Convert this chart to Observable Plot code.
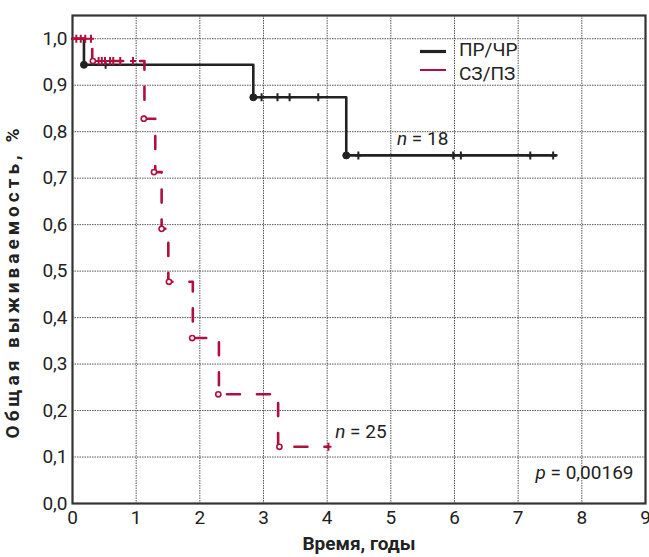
<!DOCTYPE html>
<html>
<head>
<meta charset="utf-8">
<script src="https://cdn.jsdelivr.net/npm/d3@7"></script>
<script src="https://cdn.jsdelivr.net/npm/@observablehq/plot@0.6"></script>
<style>
  html, body { margin: 0; padding: 0; background: #fff; }
  #chart { position: relative; width: 649px; height: 557px; }
</style>
</head>
<body>
<div id="chart"></div>
<script>
// ---- Data ----
const seriesNames = ["ПР/ЧР", "СЗ/ПЗ"];
const seriesColors = ["#222222", "#b0103f"];

// ПР/ЧР (n = 18): step drop times and survival after each drop
const prTime = [0, 0.18, 2.84, 4.30, 7.60];
const prSurv = [1.0, 0.944, 0.874, 0.749, 0.749];
const prEventTime = [0.18, 2.84, 4.30];
const prCensorTime = [0.52, 2.97, 3.22, 3.41, 3.86, 4.49, 5.98, 6.10, 7.19, 7.55];

// СЗ/ПЗ (n = 25)
const szTime = [0, 0.31, 1.13, 1.30, 1.40, 1.505, 1.89, 2.30, 3.23, 4.02];
const szSurv = [1.0, 0.952, 0.828, 0.713, 0.591, 0.477, 0.356, 0.235, 0.122, 0.122];
const szEventTime = [0.32, 1.12, 1.28, 1.40, 1.515, 1.88, 2.29, 3.25];
const szCensorTime = [0.06, 0.13, 0.20, 0.29, 0.41, 0.46, 0.51, 0.59, 0.64, 0.75, 0.95, 4.02];

const xTicks = [0, 1, 2, 3, 4, 5, 6, 7, 8, 9];
const yTicks = [0, 0.1, 0.2, 0.3, 0.4, 0.5, 0.6, 0.7, 0.8, 0.9, 1.0];

const nLabels = ["n = 18", "n = 25"];
const pLabel = "p = 0,00169";
const xTitle = "Время, годы";
const yTitle = "Общая выживаемость, %";

// ---- Build tables ----
function survAt(times, survs, t) {
  let s = survs[0];
  for (let i = 0; i < times.length; i++) if (times[i] <= t) s = survs[i];
  return s;
}
const prLine = prTime.map((t, i) => ({t, s: prSurv[i]}));
const szLine = szTime.map((t, i) => ({t, s: szSurv[i]}));
const prEvents = prEventTime.map(t => ({t, s: survAt(prTime, prSurv, t + 0.02)}));
const szEvents = szEventTime.map(t => ({t, s: survAt(szTime, szSurv, t + 0.02)}));
const prCens = prCensorTime.map(t => ({t, s: survAt(prTime, prSurv, t)}));
const szCens = szCensorTime.map(t => ({t, s: survAt(szTime, szSurv, t)}));

const plusSymbol = {
  draw(ctx, size) {
    const r = Math.sqrt(size / Math.PI);
    ctx.moveTo(-r * 0.75, 0); ctx.lineTo(r * 0.75, 0);
    ctx.moveTo(0, -r); ctx.lineTo(0, r);
  }
};

const FONT = "Roboto, 'Liberation Sans', sans-serif";

const plot = Plot.plot({
  width: 649,
  height: 557,
  marginLeft: 72,
  marginRight: 4,
  marginTop: 15,
  marginBottom: 54,
  style: {fontFamily: FONT, fontSize: "19px", color: "#222", background: "#fff"},
  x: {domain: [0, 9], ticks: xTicks, tickFormat: d => String(d), tickSize: 0, tickPadding: 7, label: null},
  y: {domain: [0, 1.05], ticks: yTicks, tickFormat: d => d.toFixed(1).replace(".", ","), tickSize: 0, tickPadding: 5, label: null},
  marks: [
    Plot.ruleX(xTicks.slice(1, -1), {stroke: "#555", strokeWidth: 1, strokeDasharray: "1.5,1"}),
    Plot.ruleY(yTicks.slice(1), {stroke: "#555", strokeWidth: 1, strokeDasharray: "1.5,1"}),
    Plot.frame({stroke: "#333", strokeWidth: 2.2}),
    Plot.line(prLine, {x: "t", y: "s", curve: "step-after", stroke: seriesColors[0], strokeWidth: 2.6}),
    Plot.line(szLine, {x: "t", y: "s", curve: "step-after", stroke: seriesColors[1], strokeWidth: 2.6, strokeDasharray: "13,17"}),
    Plot.dot(prCens, {x: "t", y: "s", symbol: plusSymbol, r: 4, stroke: seriesColors[0], strokeWidth: 2, fill: "none"}),
    Plot.dot(szCens, {x: "t", y: "s", symbol: plusSymbol, r: 4, stroke: seriesColors[1], strokeWidth: 2, fill: "none"}),
    Plot.dot(prEvents, {x: "t", y: "s", r: 3.5, fill: seriesColors[0], stroke: seriesColors[0], strokeWidth: 1}),
    Plot.dot(szEvents, {x: "t", y: "s", r: 2.6, fill: "#fff", stroke: seriesColors[1], strokeWidth: 1.6}),
    Plot.text([nLabels[0]], {x: 5.5, y: 0.785, text: d => d, fontSize: 19, fill: "#222"}),
    Plot.text([nLabels[1]], {x: 4.53, y: 0.154, text: d => d, fontSize: 19, fill: "#222"}),
    Plot.text([pLabel], {frameAnchor: "bottom-right", dx: -12, dy: -25, textAnchor: "end", text: d => d, fontSize: 19, fill: "#222"}),
    Plot.text([xTitle], {frameAnchor: "bottom", dy: 46, textAnchor: "middle", text: d => d, fontSize: 19, fontWeight: "bold", fill: "#222"}),
    Plot.text([yTitle], {frameAnchor: "left", dx: -60, dy: 22, rotate: -90, textAnchor: "middle", text: d => d, fontSize: 19, fontWeight: "bold", fill: "#222"})
  ]
});

document.getElementById("chart").appendChild(plot);

// italicize the "n" / "p" letters in annotations
const svg = d3.select(plot);
svg.selectAll("text").each(function() {
  const el = d3.select(this);
  const t = el.text();
  if (t === nLabels[0] || t === nLabels[1] || t === pLabel) {
    el.text(null);
    el.append("tspan").attr("font-style", "italic").text(t[0]);
    el.append("tspan").text(t.slice(1));
  }
  if (t === yTitle) el.attr("letter-spacing", "4px");
});

// legend (top-right, inside the frame)
const lg = svg.append("g").attr("font-family", FONT).attr("font-size", 19).attr("fill", "#222").attr("text-anchor", "start");
[0, 1].forEach(i => {
  const yLine = 51.5 + i * 18.5;
  const yText = 49 + i * 24;
  lg.append("line").attr("x1", 420).attr("x2", 446).attr("y1", yLine).attr("y2", yLine)
    .attr("stroke", seriesColors[i]).attr("stroke-width", i === 0 ? 3.2 : 2);
  lg.append("text").attr("x", 459).attr("y", yText).attr("dy", "0.36em").attr("text-anchor", "start").text(seriesNames[i]);
});
</script>
</body>
</html>
